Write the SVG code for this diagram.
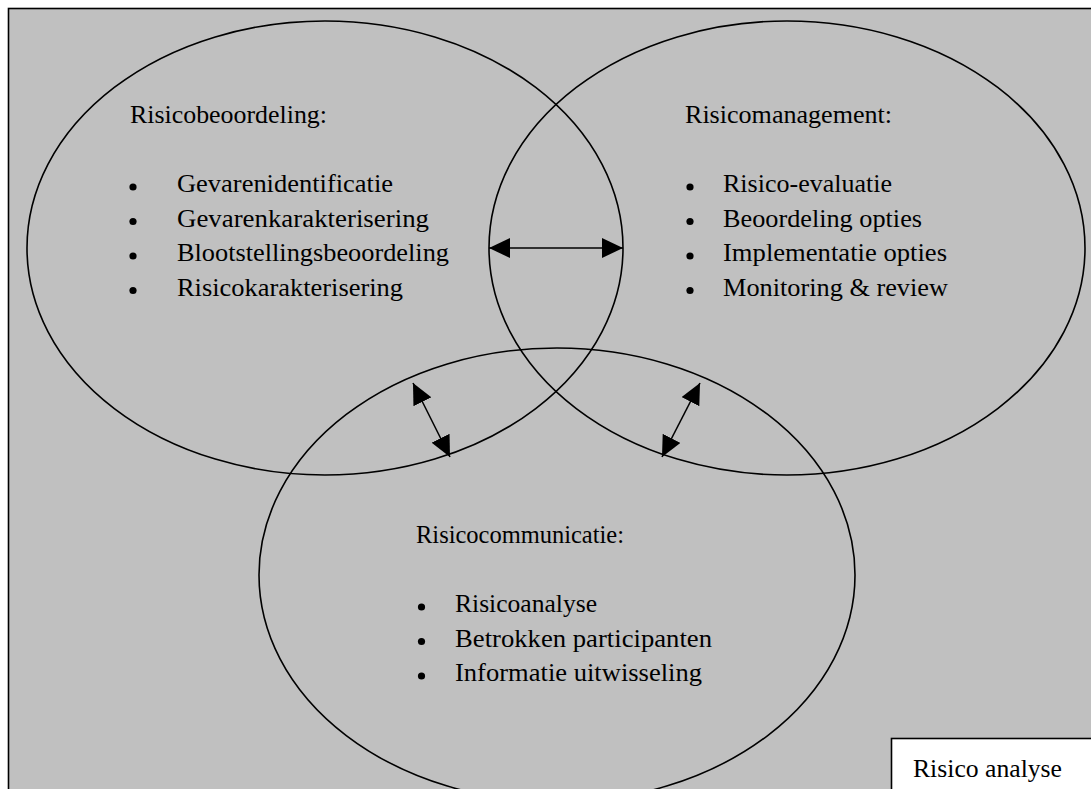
<svg xmlns="http://www.w3.org/2000/svg" width="1091" height="789" viewBox="0 0 1091 789">
<style>
.t{font-family:"Liberation Serif","Times New Roman",serif;font-size:25px;fill:#000}
.e{fill:none;stroke:#000;stroke-width:1.6}
.b{fill:#000}
.c{stroke:#000;stroke-width:1.6;fill:none}
</style>
<defs>
<marker id="ah" viewBox="0 0 21 20" refX="21" refY="10" markerWidth="21" markerHeight="20" markerUnits="userSpaceOnUse" orient="auto-start-reverse">
<path d="M0,0 L21,10 L0,20 Z" fill="#000"/>
</marker>
</defs>
<rect x="8.5" y="8.5" width="1100" height="800" fill="#c0c0c0" stroke="#000" stroke-width="1.6"/>
<g id="risicobeoordeling">
<ellipse class="e" cx="325" cy="248" rx="298" ry="227"/>
<text class="t" x="130" y="123" textLength="197" lengthAdjust="spacingAndGlyphs">Risicobeoordeling:</text>
<circle class="b" cx="133" cy="187" r="3.6"/>
<circle class="b" cx="133" cy="221.5" r="3.6"/>
<circle class="b" cx="133" cy="256" r="3.6"/>
<circle class="b" cx="133" cy="290.5" r="3.6"/>
<text class="t" x="177" y="192" textLength="216" lengthAdjust="spacingAndGlyphs">Gevarenidentificatie</text>
<text class="t" x="177" y="226.5" textLength="252" lengthAdjust="spacingAndGlyphs">Gevarenkarakterisering</text>
<text class="t" x="177" y="261" textLength="272" lengthAdjust="spacingAndGlyphs">Blootstellingsbeoordeling</text>
<text class="t" x="177" y="295.5" textLength="226" lengthAdjust="spacingAndGlyphs">Risicokarakterisering</text>
</g>
<g id="risicomanagement">
<ellipse class="e" cx="787" cy="248" rx="298" ry="227"/>
<text class="t" x="685" y="123" textLength="207" lengthAdjust="spacingAndGlyphs">Risicomanagement:</text>
<circle class="b" cx="690" cy="187" r="3.6"/>
<circle class="b" cx="690" cy="221.5" r="3.6"/>
<circle class="b" cx="690" cy="256" r="3.6"/>
<circle class="b" cx="690" cy="290.5" r="3.6"/>
<text class="t" x="723" y="192" textLength="169" lengthAdjust="spacingAndGlyphs">Risico-evaluatie</text>
<text class="t" x="723" y="226.5" textLength="199" lengthAdjust="spacingAndGlyphs">Beoordeling opties</text>
<text class="t" x="723" y="261" textLength="224" lengthAdjust="spacingAndGlyphs">Implementatie opties</text>
<text class="t" x="723" y="295.5" textLength="225" lengthAdjust="spacingAndGlyphs">Monitoring &amp; review</text>
</g>
<g id="risicocommunicatie">
<ellipse class="e" cx="557" cy="575" rx="298" ry="227"/>
<text class="t" x="416" y="543" textLength="208" lengthAdjust="spacingAndGlyphs">Risicocommunicatie:</text>
<circle class="b" cx="421.5" cy="607" r="3.6"/>
<circle class="b" cx="421.5" cy="641.5" r="3.6"/>
<circle class="b" cx="421.5" cy="676" r="3.6"/>
<text class="t" x="455" y="612" textLength="142" lengthAdjust="spacingAndGlyphs">Risicoanalyse</text>
<text class="t" x="455" y="646.5" textLength="257" lengthAdjust="spacingAndGlyphs">Betrokken participanten</text>
<text class="t" x="455" y="681" textLength="247" lengthAdjust="spacingAndGlyphs">Informatie uitwisseling</text>
</g>
<g id="label">
<rect x="891.5" y="738.5" width="220" height="80" fill="#fff" stroke="#000" stroke-width="1.6"/>
<text class="t" x="913" y="777" textLength="149" lengthAdjust="spacingAndGlyphs">Risico analyse</text>
</g>
<g id="connectors">
<line class="c" x1="489" y1="248" x2="623" y2="248" marker-start="url(#ah)" marker-end="url(#ah)"/>
<line class="c" x1="413" y1="383" x2="450" y2="457" marker-start="url(#ah)" marker-end="url(#ah)"/>
<line class="c" x1="700" y1="383" x2="662" y2="457" marker-start="url(#ah)" marker-end="url(#ah)"/>
</g>
</svg>
